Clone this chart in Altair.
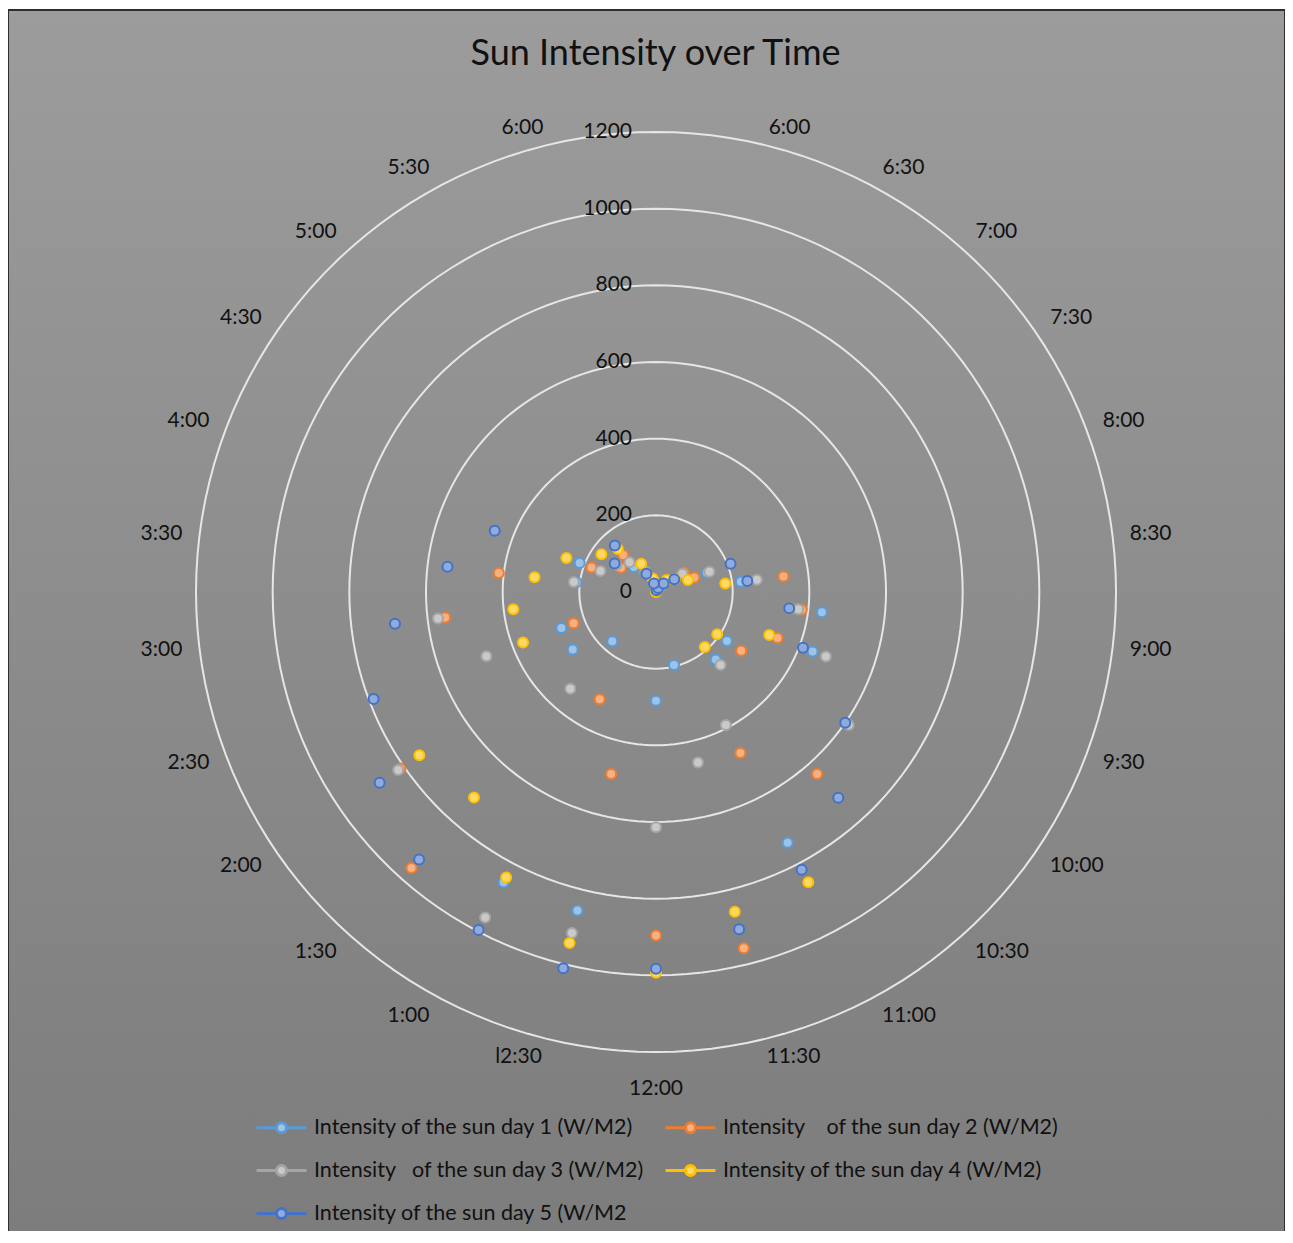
import math
import altair as alt
import pandas as pd

# ---------------- data ----------------
categories = ["", "6:00", "6:30", "7:00", "7:30", "8:00", "8:30", "9:00", "9:30",
              "10:00", "10:30", "11:00", "11:30", "12:00", "l2:30", "1:00", "1:30",
              "2:00", "2:30", "3:00", "3:30", "4:00", "4:30", "5:00", "5:30", "6:00"]

series_names = [
    "Intensity of the sun day 1 (W/M2)",
    "Intensity\u00a0\u00a0\u00a0 of the sun day 2 (W/M2)",
    "Intensity\u00a0\u00a0 of the sun day 3 (W/M2)",
    "Intensity of the sun day 4 (W/M2)",
    "Intensity of the sun day 5 (W/M2",
]

# values for categories 1..25 (6:00 ... 6:00)
day1 = [0, 10, 20, 85, 142, 223, 436, 437, 225, 235, 739, 196, 284, 856, 855, 172, 264, 264, 565, 209, 213, 130, 87, 60, 20]
day2 = [0, 10, 25, 89, 107, 335, 383, 339, 270, 634, 474, 957, 896, 489, 316, 962, 810, 230, 554, 413, 180, 111, 129, 60, 20]
day3 = [0, 10, 25, 84, 149, 265, 374, 474, 611, 254, 392, 458, 614, 916, 959, 337, 817, 473, 573, 216, 155, 125, 104, 60, 20]
day4 = [0, 10, 42, 60, 89, 182, 351, 316, 194, 192, 855, 859, 993, 943, 841, 716, 750, 371, 375, 319, 250, 173, 150, 83, 36]
day5 = [5, 12, 30, 58, 208, 240, 350, 410, 600, 717, 818, 906, 983, 1011, 996, 932, 876, 788, 686, 548, 450, 131, 162, 54, 23]

ticks = [0, 200, 400, 600, 800, 1000, 1200]

stroke_colors = ["#5B9BD5", "#ED7D31", "#A5A5A5", "#FFC000", "#4472C4"]
fill_colors = ["#9DC3E6", "#F4B183", "#C9C9C9", "#FFD966", "#8FAADC"]

# ---------------- layout ----------------
FONT = "Lato"
W, H = 1277, 1221
CX, CY = 648, 582              # centre of the radar inside the view (px)
K = 460 / 1200                 # px per unit
N = len(categories)
STEP = 2 * math.pi / N
RING_SEG = 156
RSTEP = 2 * math.pi / RING_SEG

xs = alt.Scale(domain=[-CX / K, (W - CX) / K], nice=False, zero=False)
ys = alt.Scale(domain=[-(H - CY) / K, CY / K], nice=False, zero=False)

rows = []
series_lists = [day1, day2, day3, day4, day5]
for name, vals in zip(series_names, series_lists):
    for i, v in enumerate(vals):
        rows.append({"series": name, "idx": i + 1, "value": v})
pts = pd.DataFrame(rows)

ring_df = pd.DataFrame([{"ring": t, "v": j} for t in ticks[1:] for j in range(RING_SEG + 1)])
tick_df = pd.DataFrame({"t": ticks})
cat_df = pd.DataFrame({"idx": list(range(N)), "label": categories})
bg_df = pd.DataFrame({"b": [0]})

background = alt.Chart(bg_df).mark_rect(
    fill=alt.LinearGradient(
        gradient="linear", x1=0, x2=0, y1=0, y2=1,
        stops=[alt.GradientStop(color="#9c9c9c", offset=0), alt.GradientStop(color="#7c7c7c", offset=1)],
    ),
    stroke="#2e2e2e", strokeWidth=2,
).encode(
    x=alt.value(0), x2=alt.value(W), y=alt.value(0), y2=alt.value(H + 20)
)

rings = alt.Chart(ring_df).transform_calculate(
    ang=f"datum.v*{RSTEP}"
).transform_calculate(
    px="datum.ring*sin(datum.ang)", py="datum.ring*cos(datum.ang)"
).mark_line(color="#e6e6e6", strokeWidth=2).encode(
    x=alt.X("px:Q", scale=xs, axis=None),
    y=alt.Y("py:Q", scale=ys, axis=None),
    detail="ring:N",
    order="v:Q",
)

tick_labels = alt.Chart(tick_df).transform_calculate(
    zero="0"
).mark_text(align="right", baseline="middle", dx=-24, font=FONT, fontSize=21, color="#111111").encode(
    x=alt.X("zero:Q", scale=xs, axis=None),
    y=alt.Y("t:Q", scale=ys, axis=None),
    text="t:Q",
)

R0 = 468 / K
cat_labels = alt.Chart(cat_df).transform_filter(
    "datum.label != ''"
).transform_calculate(
    ang=f"datum.idx*{STEP}"
).transform_calculate(
    s="sin(datum.ang)", c="cos(datum.ang)",
    hw=f"(length(datum.label)*11/2 + 8)/{K}",
    hh=f"10/{K}",
    drop=f"(19/{K})*pow(max(0, -cos(datum.ang)), 100)",
).transform_calculate(
    px=f"{R0}*datum.s + clamp(3*datum.s,-1,1)*datum.hw",
    py=f"{R0}*datum.c + clamp(1.5*datum.c,-1,1)*datum.hh - datum.drop",
).mark_text(align="center", baseline="middle", font=FONT, fontSize=21, color="#111111").encode(
    x=alt.X("px:Q", scale=xs, axis=None),
    y=alt.Y("py:Q", scale=ys, axis=None),
    text="label:N",
)

SYMBOL = ("M-1,0L-0.22,0M0.22,0L1,0"
          "M0.2,0A0.2,0.2,0,1,1,-0.2,0A0.2,0.2,0,1,1,0.2,0Z")

leg = alt.Legend(
    title=None, orient="none", legendX=247, legendY=1091, columns=2, direction="horizontal",
    columnPadding=14, rowPadding=5, padding=0,
    symbolType=SYMBOL, symbolSize=2500, symbolStrokeWidth=3, symbolOpacity=1,
    labelFont=FONT, labelFontSize=21.5, labelColor="#111111", labelOffset=6,
    labelLimit=0,
)

points = alt.Chart(pts).transform_calculate(
    ang=f"datum.idx*{STEP}"
).transform_calculate(
    px="datum.value*sin(datum.ang)", py="datum.value*cos(datum.ang)"
).mark_point(filled=True, size=100, strokeWidth=2, opacity=1, fillOpacity=1, strokeOpacity=1).encode(
    x=alt.X("px:Q", scale=xs, axis=None),
    y=alt.Y("py:Q", scale=ys, axis=None),
    fill=alt.Fill("series:N", scale=alt.Scale(domain=series_names, range=fill_colors), legend=leg),
    stroke=alt.Stroke("series:N", scale=alt.Scale(domain=series_names, range=stroke_colors), legend=leg),
)

chart = alt.layer(background, rings, tick_labels, cat_labels, points).properties(
    width=W, height=H,
    autosize=alt.AutoSizeParams(type="none"),
    padding={"left": 0, "top": 2, "right": 0, "bottom": 0},
    title=alt.TitleParams(
        "Sun Intensity over Time", anchor="middle", font=FONT, fontSize=36,
        fontWeight="normal", color="#111111", offset=0, baseline="middle", dy=81, dx=9,
    ),
).configure_view(stroke=None)

chart.save("out.html", embed_options={"renderer": "svg", "actions": False})
